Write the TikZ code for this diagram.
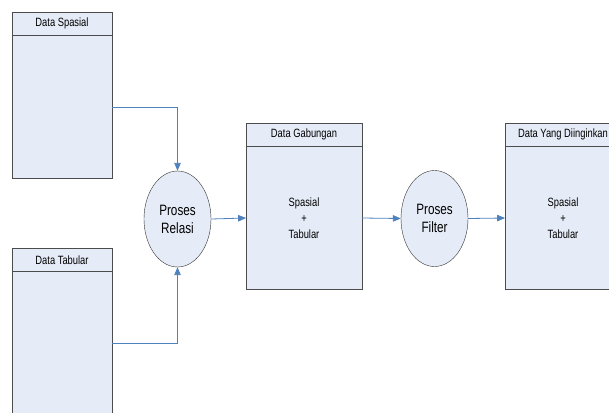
\documentclass[tikz,border=0pt]{standalone}
\usepackage{fontspec}
\setmainfont[FakeStretch=0.78]{Liberation Sans}
\usepackage{tikz}
\usetikzlibrary{shapes,arrows,positioning}
\definecolor{storefill}{HTML}{E6ECF7}
\definecolor{flowblue}{HTML}{4F81BD}
\tikzstyle{store} = [rectangle,draw=black!70,line width=0.9pt,fill=storefill,inner sep=0pt,outer sep=0pt]
\tikzstyle{head} = [store,minimum height=23.5pt,font=\fontsize{12}{13}\selectfont]
\tikzstyle{body} = [store,minimum height=143pt,align=center,font=\fontsize{12}{16}\selectfont]
\tikzstyle{process} = [ellipse,draw=black!80,fill=storefill,minimum width=67pt,minimum height=96pt,inner sep=0pt,align=center,font=\fontsize{15}{18}\selectfont]
\tikzstyle{arrow} = [color=flowblue,line width=0.8pt,-triangle 45]

\begin{document}
\begin{tikzpicture}[x=1pt,y=-1pt]
	\useasboundingbox (0,0) rectangle (609,412);

	%Data Spasial
	\node (spasialhead) [head,minimum width=100pt,anchor=north west] at (12,12) {Data Spasial};
	\node (spasial) [body,minimum width=100pt,below=0pt of spasialhead] {};

	%Data Tabular
	\node (tabularhead) [head,minimum width=100pt,anchor=north west] at (12,248) {Data Tabular};
	\node (tabular) [body,minimum width=100pt,below=0pt of tabularhead,minimum height=143pt] {};

	%Proses Relasi
	\node (relasi) [process] at (177.5,219) {Proses\\Relasi};

	%Data Gabungan
	\node (gabunganhead) [head,minimum width=116pt,anchor=north west] at (246,123) {Data Gabungan};
	\node (gabungan) [body,minimum width=116pt,below=0pt of gabunganhead] {Spasial\\+\\Tabular};

	%Proses Filter
	\node (filter) [process] at (434.5,218.5) {Proses\\Filter};

	%Data Yang Diinginkan
	\node (hasilhead) [head,minimum width=116pt,anchor=north west] at (505,123) {Data Yang Diinginkan};
	\node (hasil) [body,minimum width=116pt,below=0pt of hasilhead] {Spasial\\+\\Tabular};

	\draw [arrow] (spasial.east) -| (relasi.north);
	\draw [arrow] (tabular.east) -| (relasi.south);
	\draw [arrow] (relasi.east) -- (gabungan.west);
	\draw [arrow] (gabungan.east) -- (filter.west);
	\draw [arrow] (filter.east) -- (hasil.west);
\end{tikzpicture}
\end{document}
